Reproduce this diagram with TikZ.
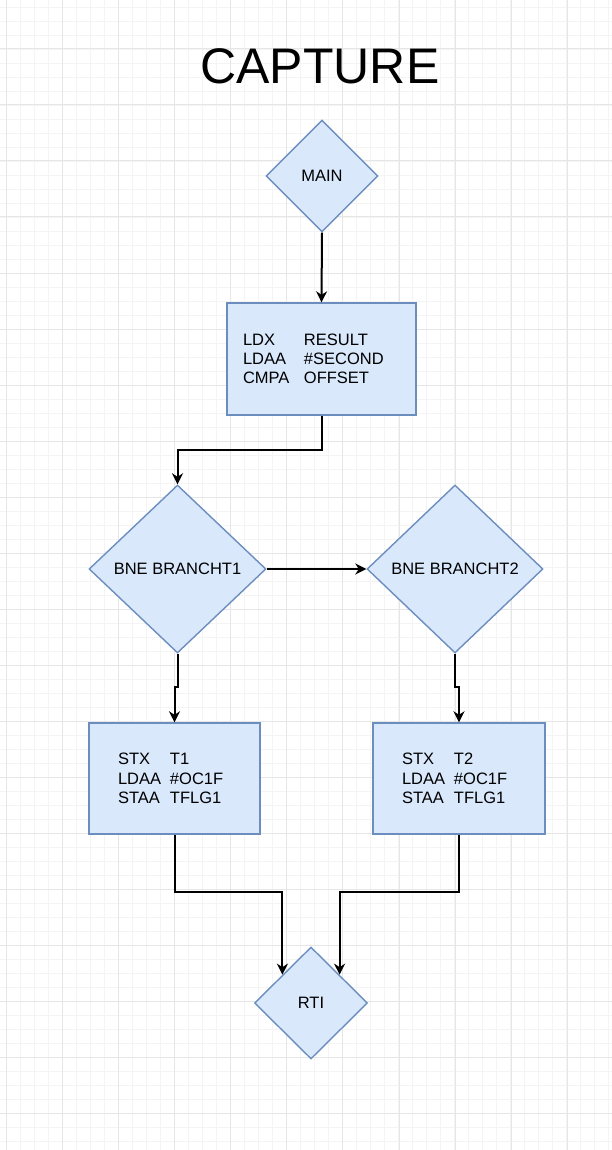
\documentclass[tikz,border=0pt]{standalone}
\usepackage{fontspec}
\setmainfont{Liberation Sans}
\usetikzlibrary{shapes.geometric,arrows.meta}
\definecolor{boxfill}{HTML}{DAE8FC}
\definecolor{boxline}{HTML}{6C8EBF}
\definecolor{gridmajor}{HTML}{E6E6E6}
\definecolor{gridminor}{HTML}{F4F4F4}
\tikzset{
  dia/.style={diamond, draw=boxline, fill=boxfill, line width=1.4pt, inner sep=0pt,
    font=\fontsize{16.5}{19.3}\selectfont},
  codebox/.style={rectangle, draw=boxline, fill=boxfill, line width=1.4pt,
    align=left, font=\fontsize{16.5}{19.3}\selectfont, inner ysep=0pt},
  arr/.style={draw=black, line width=2pt, -{Stealth[length=11pt,width=11pt,inset=3.5pt]}},
}
\begin{document}
\begin{tikzpicture}[x=1pt,y=-1pt]
\useasboundingbox (0,0) rectangle (612,1150);
\fill[white] (0,0) rectangle (612,1150);
% grid
\foreach \x in {-7.7,6.3,...,620} \draw[gridminor, line width=0.8pt] (\x,0) -- (\x,1150);
\foreach \y in {-7,7,...,1160} \draw[gridminor, line width=0.8pt] (0,\y) -- (612,\y);
\foreach \x in {6.3,62.4,...,620} \draw[gridmajor, line width=1pt] (\x,0) -- (\x,1150);
\foreach \y in {49,105,...,1160} \draw[gridmajor, line width=1pt] (0,\y) -- (612,\y);

\node (title) at (320,66) {\fontsize{50}{60}\selectfont CAPTURE};

\node[dia, minimum width=112pt, minimum height=112pt] (main) at (322,176) {MAIN};
\node[codebox, minimum width=189pt, minimum height=112pt, text width=157pt, inner xsep=16pt] (box1) at (321.5,359)
  {\makebox[61pt][l]{LDX}RESULT\\\makebox[61pt][l]{LDAA}\#SECOND\\\makebox[61pt][l]{CMPA}OFFSET};
\node[dia, minimum width=177pt, minimum height=168pt] (d1) at (177.5,569) {BNE BRANCHT1};
\node[dia, minimum width=176pt, minimum height=168pt] (d2) at (455,569) {BNE BRANCHT2};
\node[codebox, minimum width=171pt, minimum height=111pt, text width=113pt, inner xsep=29pt] (box2) at (174.5,778.5)
  {\makebox[52pt][l]{STX}T1\\\makebox[52pt][l]{LDAA}\#OC1F\\\makebox[52pt][l]{STAA}TFLG1};
\node[codebox, minimum width=172pt, minimum height=111pt, text width=114pt, inner xsep=29pt] (box3) at (459,778.5)
  {\makebox[52pt][l]{STX}T2\\\makebox[52pt][l]{LDAA}\#OC1F\\\makebox[52pt][l]{STAA}TFLG1};
\node[dia, minimum width=113pt, minimum height=112pt] (rti) at (311,1003) {RTI};

\draw[arr] (main.south) -- (box1.north);
\draw[arr] (box1.south) -- ++(0,34) -| (d1.north);
\draw[arr] (d1.east) -- (d2.west);
\draw[arr] (d1.south) -- ++(0,33) -| (box2.north);
\draw[arr] (d2.south) -- ++(0,33) -| (box3.north);
\draw[arr] (box2.south) -- ++(0,57) -| (rti.north west);
\draw[arr] (box3.south) -- ++(0,57) -| (rti.north east);
\end{tikzpicture}
\end{document}
